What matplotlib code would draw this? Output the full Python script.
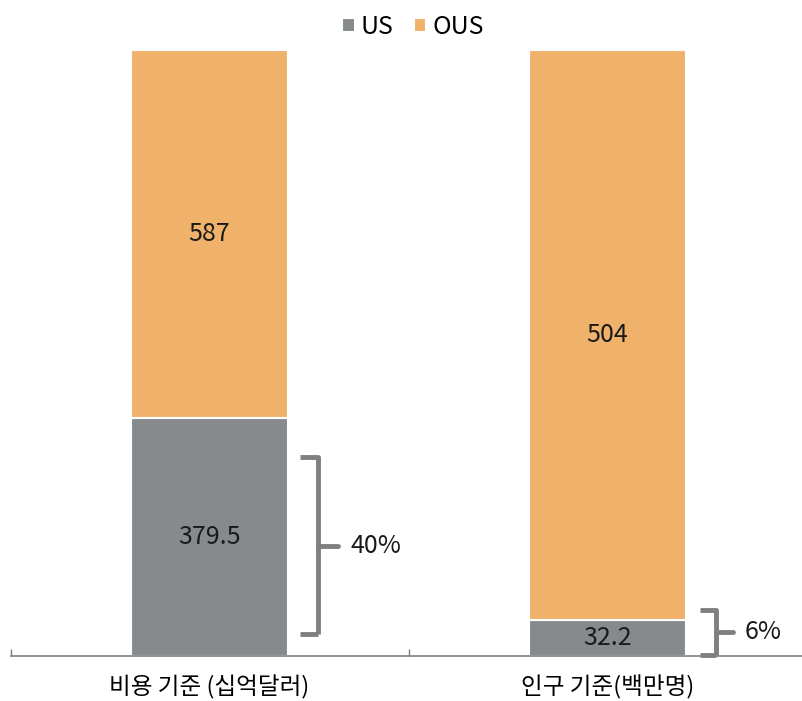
import matplotlib.pyplot as plt
import numpy as np

plt.rcParams['font.family'] = ['Noto Sans CJK KR', 'DejaVu Sans']

categories = ['비용 기준 (십억달러)', '인구 기준(백만명)']
us = [379.5, 32.2]
ous = [587, 504]
pct_labels = ['40%', '6%']

us_color = '#878a8c'
ous_color = '#f0b26b'
bracket_color = '#7f7f7f'

us_arr = np.array(us)
ous_arr = np.array(ous)
total = us_arr + ous_arr
us_share = us_arr / total
ous_share = ous_arr / total

fig = plt.figure(figsize=(8.02, 7.01), dpi=100)
ax = fig.add_axes([10.5 / 802, 45 / 701, 796 / 802, 606 / 701])

x = np.arange(len(categories))
w = 0.395
ax.bar(x, us_share, w, color=us_color, edgecolor='white', linewidth=1.5, label='US')
ax.bar(x, ous_share, w, bottom=us_share, color=ous_color, edgecolor='white', linewidth=1.5, label='OUS')

for i in range(len(categories)):
    ax.text(x[i], us_share[i] / 2, f'{us[i]:g}', ha='center', va='center', fontsize=18, color='#1a1a1a')
    ax.text(x[i], us_share[i] + ous_share[i] / 2, f'{ous[i]:g}', ha='center', va='center', fontsize=18, color='#1a1a1a')

# brackets: (x_left, x_right, x_tip, y_bottom, y_top, text_x)
brackets = [(0.227, 0.273, 0.323, 0.036, 0.328, 0.355),
            (0.232, 0.272, 0.315, 0.002, 0.076, 0.345)]
for i, (xl, xr, xt, yb, yt, tx) in enumerate(brackets):
    ym = (yb + yt) / 2
    ax.plot([x[i] + xl, x[i] + xr, x[i] + xr], [yt, yt, yb], color=bracket_color,
            lw=3.5, solid_joinstyle='round', solid_capstyle='butt', clip_on=False)
    ax.plot([x[i] + xl, x[i] + xr], [yb, yb], color=bracket_color,
            lw=3.5, solid_capstyle='butt', clip_on=False)
    ax.plot([x[i] + xr, x[i] + xt], [ym, ym], color=bracket_color,
            lw=3.5, solid_capstyle='round', clip_on=False)
    ax.text(x[i] + tx, ym, pct_labels[i], ha='left', va='center', fontsize=18, color='#1a1a1a')

ax.set_xlim(-0.5, 1.5)
ax.set_ylim(0, 1)
for s in ['top', 'right', 'left']:
    ax.spines[s].set_visible(False)
ax.spines['bottom'].set_color('#7f7f7f')
ax.spines['bottom'].set_linewidth(1.2)
ax.set_yticks([])
ax.set_xticks(x)
ax.set_xticklabels(categories, fontsize=17)
ax.tick_params(axis='x', which='major', length=0, pad=14)
ax.set_xticks([-0.5, 0.5, 1.5], minor=True)
ax.tick_params(axis='x', which='minor', direction='in', length=5, color='#7f7f7f', width=1)

fig.legend(loc='upper center', bbox_to_anchor=(0.515, 1.012), ncol=2, frameon=False,
           fontsize=18, handlelength=0.5, handleheight=0.5, handletextpad=0.25,
           columnspacing=0.8)

fig.savefig('out.png', dpi=100)
